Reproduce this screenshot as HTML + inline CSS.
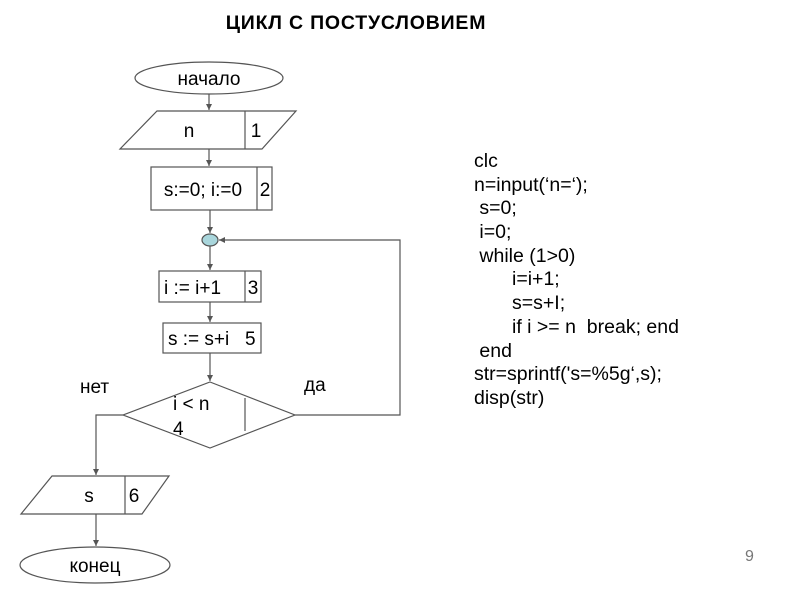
<!DOCTYPE html>
<html><head><meta charset="utf-8"><style>
html,body{margin:0;padding:0;background:#fff;}
svg{display:block;}
text{font-family:"Liberation Sans",sans-serif;fill:#000;}
</style></head><body>
<svg width="800" height="600" viewBox="0 0 800 600" xmlns="http://www.w3.org/2000/svg">
<defs><marker id="a" markerWidth="6" markerHeight="6" refX="5" refY="3" orient="auto"><path d="M0,0.5 L5,3 L0,5.5z" fill="#555"/></marker></defs>
<text x="356" y="29" font-size="19.5" font-weight="bold" text-anchor="middle" letter-spacing="0.8">ЦИКЛ С ПОСТУСЛОВИЕМ</text>
<g stroke="#555" stroke-width="1.2" fill="none">
<ellipse cx="209" cy="78" rx="74" ry="16" fill="#fff"/>
<line x1="209" y1="94" x2="209" y2="110" marker-end="url(#a)"/>
<polygon points="157,111 296,111 262,149 120,149" fill="#fff"/>
<line x1="245" y1="111" x2="245" y2="149"/>
<line x1="209" y1="149" x2="209" y2="166" marker-end="url(#a)"/>
<rect x="151" y="167" width="121" height="43" fill="#fff"/>
<line x1="257" y1="167" x2="257" y2="210"/>
<line x1="210" y1="210" x2="210" y2="233" marker-end="url(#a)"/>
<ellipse cx="210" cy="240" rx="8" ry="6" fill="#a9d6dc"/>
<line x1="210" y1="246" x2="210" y2="270" marker-end="url(#a)"/>
<rect x="159" y="271" width="102" height="31" fill="#fff"/>
<line x1="245" y1="271" x2="245" y2="302"/>
<line x1="210" y1="302" x2="210" y2="322" marker-end="url(#a)"/>
<rect x="163" y="323" width="98" height="30" fill="#fff"/>
<line x1="210" y1="353" x2="210" y2="381" marker-end="url(#a)"/>
<polygon points="210,382 295,415 210,448 123,415" fill="#fff"/>
<line x1="245" y1="398" x2="245" y2="431"/>
<polyline points="295,415 400,415 400,240 219,240" marker-end="url(#a)"/>
<polyline points="123,415 96,415 96,475" marker-end="url(#a)"/>
<polygon points="52,476 169,476 142,514 21,514" fill="#fff"/>
<line x1="125" y1="476" x2="125" y2="514"/>
<line x1="96" y1="514" x2="96" y2="546" marker-end="url(#a)"/>
<ellipse cx="95" cy="565" rx="75" ry="18" fill="#fff"/>
</g>
<g font-size="19">
<text x="209" y="85" text-anchor="middle">начало</text>
<text x="189" y="137" text-anchor="middle">n</text>
<text x="256" y="137" text-anchor="middle">1</text>
<text x="203" y="196" text-anchor="middle">s:=0; i:=0</text>
<text x="265" y="196" text-anchor="middle">2</text>
<text x="164" y="294">i := i+1</text>
<text x="253" y="294" text-anchor="middle">3</text>
<text x="168" y="345">s := s+i</text>
<text x="245" y="345">5</text>
<text x="173" y="410">i &lt; n</text>
<text x="173" y="435">4</text>
<text x="80" y="393">нет</text>
<text x="304" y="391">да</text>
<text x="89" y="502" text-anchor="middle">s</text>
<text x="134" y="502" text-anchor="middle">6</text>
<text x="95" y="572" text-anchor="middle">конец</text>
</g>
<g font-size="19.5">
<text x="474" y="167">clc</text>
<text x="474" y="191">n=input(‘n=‘);</text>
<text x="474" y="214" xml:space="preserve"> s=0;</text>
<text x="474" y="238" xml:space="preserve"> i=0;</text>
<text x="474" y="262" xml:space="preserve"> while (1&gt;0)</text>
<text x="512" y="285">i=i+1;</text>
<text x="512" y="309">s=s+I;</text>
<text x="512" y="333" xml:space="preserve">if i &gt;= n  break; end</text>
<text x="474" y="357" xml:space="preserve"> end</text>
<text x="474" y="380">str=sprintf('s=%5g‘,s);</text>
<text x="474" y="404">disp(str)</text>
</g>
<text x="745" y="561" font-size="16" style="fill:#777">9</text>
</svg>
</body></html>
